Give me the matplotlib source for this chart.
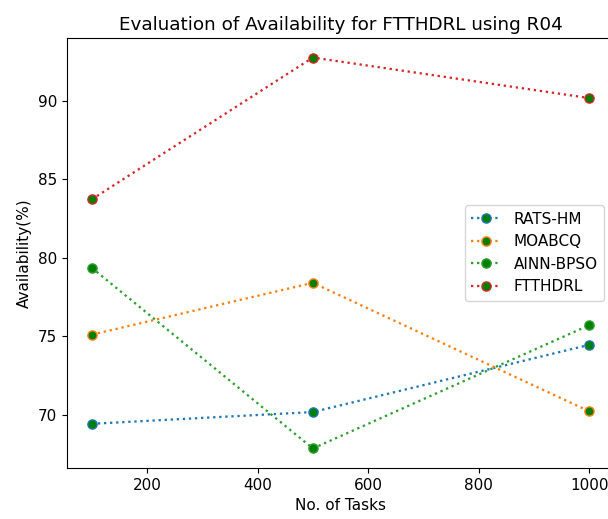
import matplotlib
matplotlib.use("Agg")
import matplotlib.pyplot as plt

tasks = [100, 500, 1000]
rats_hm = [69.42, 70.17, 74.45]
moabcq = [75.1, 78.4, 70.22]
ainn_bpso = [79.35, 67.85, 75.7]
ftthdrl = [83.72, 92.75, 90.17]

series = [
    ("RATS-HM", rats_hm, "tab:blue"),
    ("MOABCQ", moabcq, "tab:orange"),
    ("AINN-BPSO", ainn_bpso, "tab:green"),
    ("FTTHDRL", ftthdrl, "tab:red"),
]

# the original looks rendered about 10% larger than default
plt.rcParams["font.size"] = 11
plt.rcParams["axes.titlesize"] = 13.2

fig = plt.figure(figsize=(6.08, 5.19), dpi=100)
# axes runs slightly past the right edge, as in the cropped original
ax = fig.add_axes([67 / 608, 1 - 468 / 519, (614 - 67) / 608, (468 - 38) / 519])

for name, vals, col in series:
    ax.plot(tasks, vals, linestyle=":", marker="o", color=col, lw=1.65, ms=6.6,
            markerfacecolor="green", markeredgecolor=col, label=name)

ax.set_title("Evaluation of Availability for FTTHDRL using R04")
ax.set_xlabel("No. of Tasks")
ax.set_ylabel("Availability(%)")
ax.legend(loc="center right", bbox_to_anchor=(0.995, 0.5))

fig.savefig("out.png", dpi=100)
